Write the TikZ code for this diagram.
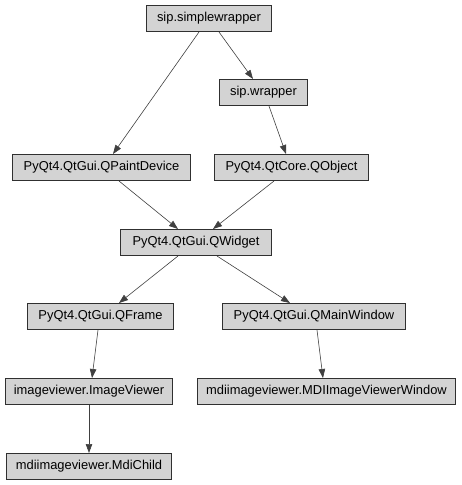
\documentclass[tikz,border=0pt]{standalone}
\usepackage{fontspec}
\setmainfont{Liberation Sans}
\usetikzlibrary{arrows.meta}
\definecolor{boxfill}{HTML}{D3D3D3}
\definecolor{boxline}{HTML}{303030}
\definecolor{edgeline}{HTML}{404040}
\begin{document}
\begin{tikzpicture}[x=1pt,y=-1pt,
  cls/.style={draw=boxline, fill=boxfill, line width=1.4pt, inner sep=0pt,
    minimum height=25.6pt, font=\fontsize{12.9}{15}\selectfont, text=black},
  inh/.style={draw=edgeline, line width=0.6pt, -{Triangle[length=9pt,width=6.5pt]}}]
\useasboundingbox (0,0) rectangle (461,485);
\fill[white] (0,0) rectangle (461,485);
\node[cls, minimum width=124.6pt] (sw) at (209,18.5) {sip.simplewrapper};
\node[cls, minimum width=87.6pt] (wr) at (263.5,92.5) {sip.wrapper};
\node[cls, minimum width=177.6pt] (pd) at (101.5,167.5) {PyQt4.QtGui.QPaintDevice};
\node[cls, minimum width=153.6pt] (qo) at (291.5,167.5) {PyQt4.QtCore.QObject};
\node[cls, minimum width=150.6pt] (qw) at (196,242.5) {PyQt4.QtGui.QWidget};
\node[cls, minimum width=145.6pt] (qf) at (100.5,316.5) {PyQt4.QtGui.QFrame};
\node[cls, minimum width=182.6pt] (mw) at (314,316.5) {PyQt4.QtGui.QMainWindow};
\node[cls, minimum width=166.6pt] (iv) at (89,391.5) {imageviewer.ImageViewer};
\node[cls, minimum width=257.6pt] (mv) at (326.5,391.5) {mdiimageviewer.MDIImageViewerWindow};
\node[cls, minimum width=164.6pt] (mc) at (89,466.5) {mdiimageviewer.MdiChild};
\draw[inh] ([xshift=-10pt]sw.south) -- ([xshift=11.5pt]pd.north);
\draw[inh] ([xshift=10pt]sw.south) -- ([xshift=-10.5pt]wr.north);
\draw[inh] ([xshift=5.5pt]wr.south) -- ([xshift=-5.5pt]qo.north);
\draw[inh] ([xshift=17.5pt]pd.south) -- ([xshift=-18pt]qw.north);
\draw[inh] ([xshift=-17.5pt]qo.south) -- ([xshift=17pt]qw.north);
\draw[inh] ([xshift=-18pt]qw.south) -- ([xshift=18.5pt]qf.north);
\draw[inh] ([xshift=21pt]qw.south) -- ([xshift=-24pt]mw.north);
\draw[inh] ([xshift=-2.5pt]qf.south) -- ([xshift=3pt]iv.north);
\draw[inh] ([xshift=3pt]mw.south) -- ([xshift=-3.5pt]mv.north);
\draw[inh] (iv.south) -- (mc.north);
\end{tikzpicture}
\end{document}
